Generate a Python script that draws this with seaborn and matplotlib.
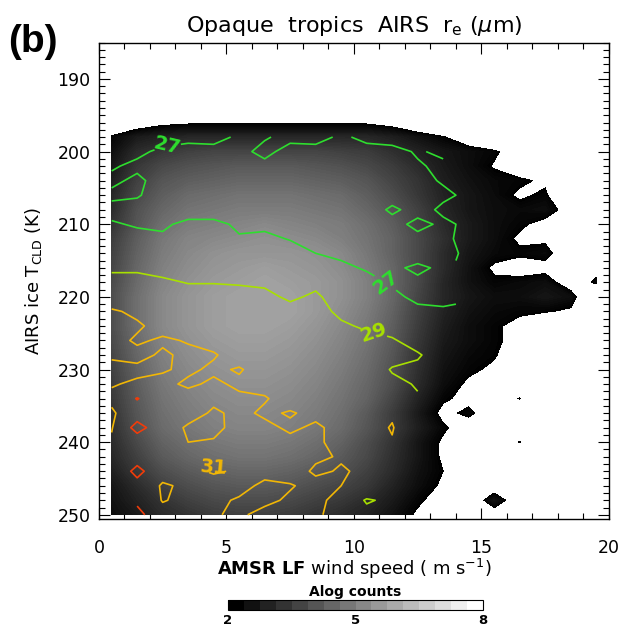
import numpy as np
import matplotlib
matplotlib.use("Agg")
import matplotlib.pyplot as plt
import matplotlib.ticker as mticker
from matplotlib.colors import BoundaryNorm, ListedColormap, Normalize
from matplotlib.cm import ScalarMappable
import seaborn as sns

# ---------------------------------------------------------------------------
# Gridded statistics: AMSR low-frequency wind speed (columns) versus AIRS ice
# cloud-top temperature (rows), opaque tropical clouds.
# ---------------------------------------------------------------------------
wind_bins = [0.5, 1.5, 2.5, 3.5, 4.5, 5.5, 6.5, 7.5, 8.5, 9.5,
             10.5, 11.5, 12.5, 13.5, 14.5, 15.5, 16.5, 17.5, 18.5, 19.5]
temp_bins = [196, 198, 200, 202, 204, 206, 208, 210, 212, 214, 216, 218, 220,
             222, 224, 226, 228, 230, 232, 234, 236, 238, 240, 242, 244, 246,
             248, 250]

# log10 of the number of observations per bin
log_counts = [
    [1.0, 1.5, 1.8, 1.9, 1.9, 1.9, 1.9, 1.9, 1.9, 1.9, 1.9, 1.7, 1.2, 0.8, 0.3, 0.0, 0.0, 0.0, 0.0, 0.0],
    [2.1, 2.6, 2.8, 2.9, 2.9, 2.9, 2.9, 2.9, 2.9, 2.9, 2.9, 2.7, 2.4, 2.05, 1.5, 1.0, 0.5, 0.0, 0.0, 0.0],
    [2.3, 3.0, 3.3, 3.5, 3.6, 3.6, 3.6, 3.6, 3.6, 3.5, 3.4, 3.1, 2.8, 2.5, 2.3, 2.1, 1.6, 0.8, 0.0, 0.0],
    [2.5, 3.3, 3.7, 3.9, 4.0, 4.1, 4.1, 4.1, 4.0, 3.9, 3.7, 3.4, 3.0, 2.6, 2.3, 1.95, 1.6, 1.0, 0.0, 0.0],
    [2.7, 3.5, 4.0, 4.2, 4.3, 4.4, 4.4, 4.4, 4.3, 4.2, 4.0, 3.6, 3.2, 2.7, 2.4, 2.2, 2.1, 1.9, 0.5, 0.0],
    [2.9, 3.7, 4.2, 4.5, 4.6, 4.7, 4.7, 4.7, 4.6, 4.5, 4.2, 3.8, 3.3, 2.8, 2.5, 2.25, 1.9, 2.1, 1.0, 0.0],
    [3.0, 3.9, 4.4, 4.7, 4.8, 4.9, 4.9, 4.9, 4.8, 4.7, 4.4, 4.0, 3.5, 2.9, 2.5, 2.3, 2.2, 2.3, 1.7, 0.5],
    [3.2, 4.0, 4.6, 4.9, 5.0, 5.1, 5.2, 5.1, 5.0, 4.9, 4.6, 4.2, 3.6, 3.0, 2.6, 2.3, 2.1, 1.8, 1.2, 0.5],
    [3.4, 4.2, 4.8, 5.1, 5.2, 5.3, 5.4, 5.3, 5.2, 5.0, 4.7, 4.3, 3.7, 3.1, 2.6, 2.3, 1.9, 1.9, 1.0, 0.0],
    [3.5, 4.3, 4.9, 5.2, 5.4, 5.5, 5.5, 5.5, 5.4, 5.2, 4.8, 4.3, 3.7, 3.0, 2.5, 2.2, 2.1, 2.2, 1.5, 0.5],
    [3.6, 4.4, 5.0, 5.3, 5.5, 5.6, 5.7, 5.6, 5.5, 5.3, 4.9, 4.4, 3.7, 3.0, 2.4, 1.9, 1.7, 1.8, 1.2, 1.8],
    [3.7, 4.5, 5.1, 5.4, 5.6, 5.7, 5.8, 5.7, 5.6, 5.4, 5.0, 4.4, 3.7, 2.9, 2.4, 2.1, 2.2, 2.3, 1.6, 2.1],
    [3.8, 4.6, 5.2, 5.5, 5.7, 5.8, 5.8, 5.8, 5.6, 5.4, 5.0, 4.4, 3.6, 2.9, 2.5, 2.3, 2.3, 2.5, 2.3, 1.0],
    [3.8, 4.6, 5.2, 5.5, 5.7, 5.8, 5.8, 5.8, 5.6, 5.3, 4.9, 4.3, 3.5, 2.8, 2.4, 2.2, 2.1, 2.05, 1.9, 0.5],
    [3.8, 4.6, 5.2, 5.5, 5.7, 5.8, 5.8, 5.7, 5.5, 5.2, 4.8, 4.2, 3.4, 2.7, 2.3, 2.1, 1.8, 1.2, 0.8, 0.2],
    [3.7, 4.5, 5.1, 5.4, 5.6, 5.7, 5.7, 5.6, 5.4, 5.1, 4.7, 4.1, 3.3, 2.6, 2.3, 2.1, 1.8, 1.0, 0.5, 0.0],
    [3.6, 4.4, 5.0, 5.3, 5.5, 5.6, 5.6, 5.5, 5.3, 5.0, 4.6, 4.0, 3.2, 2.5, 2.2, 2.05, 1.6, 0.8, 0.0, 0.0],
    [3.5, 4.3, 4.9, 5.2, 5.4, 5.5, 5.5, 5.4, 5.2, 4.9, 4.5, 3.9, 3.1, 2.4, 2.1, 1.9, 1.4, 0.5, 0.0, 0.0],
    [3.4, 4.2, 4.8, 5.1, 5.3, 5.4, 5.4, 5.3, 5.1, 4.8, 4.4, 3.8, 3.0, 2.3, 1.9, 1.6, 1.3, 0.5, 0.0, 0.0],
    [3.3, 4.1, 4.7, 5.0, 5.2, 5.3, 5.3, 5.2, 5.0, 4.7, 4.3, 3.6, 2.8, 2.1, 1.8, 1.6, 2.03, 1.2, 0.3, 0.0],
    [3.2, 4.0, 4.6, 4.9, 5.1, 5.2, 5.2, 5.1, 4.9, 4.6, 4.1, 3.4, 2.6, 1.8, 2.15, 1.5, 1.3, 0.8, 0.0, 0.0],
    [3.1, 3.9, 4.5, 4.8, 5.0, 5.1, 5.1, 5.0, 4.8, 4.5, 4.0, 3.4, 2.7, 2.1, 1.6, 1.3, 1.5, 0.8, 0.0, 0.0],
    [3.0, 3.7, 4.3, 4.6, 4.8, 4.9, 4.9, 4.8, 4.6, 4.3, 3.8, 3.2, 2.5, 1.9, 1.4, 1.2, 2.03, 0.8, 0.0, 0.0],
    [2.9, 3.5, 4.1, 4.4, 4.6, 4.7, 4.7, 4.6, 4.4, 4.1, 3.7, 3.1, 2.5, 1.9, 1.3, 1.0, 0.8, 0.3, 0.0, 0.0],
    [2.7, 3.3, 3.8, 4.1, 4.3, 4.4, 4.4, 4.3, 4.1, 3.9, 3.5, 3.0, 2.4, 2.0, 1.5, 1.2, 0.8, 0.3, 0.0, 0.0],
    [2.5, 3.0, 3.5, 3.8, 4.0, 4.1, 4.1, 4.0, 3.8, 3.6, 3.3, 2.8, 2.3, 1.9, 1.5, 1.6, 1.2, 0.3, 0.0, 0.0],
    [2.4, 2.8, 3.2, 3.5, 3.7, 3.8, 3.8, 3.7, 3.5, 3.3, 3.0, 2.6, 2.1, 1.7, 1.4, 2.4, 1.5, 0.3, 0.0, 0.0],
    [2.3, 2.6, 3.0, 3.2, 3.4, 3.5, 3.5, 3.4, 3.2, 3.0, 2.8, 2.4, 1.9, 1.5, 1.2, 1.6, 1.0, 0.2, 0.0, 0.0],
]

# mean ice effective radius (um) for wind bins 0.5 ... 14.5 m/s
nan = np.nan
re_um = [
    [nan, nan, nan, nan, nan, nan, nan, nan, nan, nan, nan, nan, nan, nan, nan],
    [nan, 27.3, 27.4, 27.3, 27.4, 26.8, 26.9, 27.3, 27.4, 26.8, 27.3, 27.4, nan, nan, nan],
    [27.3, 27.2, 26.8, 26.6, 26.6, 26.7, 27.3, 26.6, 26.6, 26.7, 26.6, 26.7, 27.1, 26.8, nan],
    [27.1, 26.8, 26.6, 26.5, 26.5, 26.5, 26.7, 26.5, 26.5, 26.5, 26.5, 26.6, 26.9, 27.2, nan],
    [26.8, 27.2, 26.6, 26.4, 26.4, 26.4, 26.4, 26.4, 26.4, 26.4, 26.4, 26.5, 26.7, 27.1, 24.9],
    [27.2, 27.1, 26.5, 26.3, 26.3, 26.3, 26.3, 26.3, 26.3, 26.3, 26.4, 26.5, 26.6, 26.8, 27.2],
    [26.7, 26.6, 26.5, 26.4, 26.4, 26.3, 26.3, 26.3, 26.3, 26.4, 26.4, 27.2, 26.6, 27.2, 27.3],
    [27.1, 26.9, 26.8, 27.3, 27.3, 26.8, 26.8, 26.7, 26.7, 26.6, 26.6, 26.6, 27.3, 26.8, 27.2],
    [27.4, 27.3, 27.2, 27.5, 27.5, 27.1, 27.2, 26.95, 26.7, 26.6, 26.6, 26.6, 26.7, 26.8, 27.3],
    [27.8, 27.7, 27.7, 27.8, 27.9, 27.6, 27.6, 27.4, 27.0, 26.8, 26.6, 26.6, 26.5, 26.7, 27.2],
    [28.8, 28.8, 28.6, 28.4, 28.3, 28.2, 28.1, 27.9, 27.6, 27.2, 26.9, 26.8, 27.2, 26.8, 26.9],
    [29.4, 29.4, 29.2, 28.95, 28.95, 28.9, 28.8, 28.5, 28.7, 28.0, 27.3, 26.9, 26.8, 26.8, 27.1],
    [30.0, 30.0, 29.8, 29.5, 29.5, 29.4, 29.3, 28.8, 29.2, 28.4, 27.8, 27.2, 26.8, 26.8, 26.9],
    [31.2, 30.7, 30.3, 30.0, 29.9, 29.8, 29.7, 29.4, 29.5, 28.7, 28.2, 27.8, 27.2, 27.1, nan],
    [31.4, 31.2, 30.5, 30.4, 30.3, 30.1, 30.0, 29.8, 29.8, 29.2, 28.8, 28.6, 27.8, 27.4, nan],
    [31.5, 30.8, 31.2, 30.9, 30.6, 30.3, 30.2, 30.0, 30.0, 29.6, 29.4, 29.1, 28.6, 27.9, nan],
    [31.1, 31.4, 30.8, 31.3, 31.1, 30.5, 30.4, 30.2, 30.2, 29.9, 29.7, 29.5, 29.1, 28.5, nan],
    [30.8, 30.7, 30.9, 31.2, 30.8, 31.1, 30.5, 30.3, 30.3, 30.1, 29.8, 28.9, 28.8, nan, nan],
    [30.9, 31.2, 31.3, 30.8, 31.2, 30.8, 30.6, 30.4, 30.5, 30.2, 29.9, 29.3, 28.9, nan, nan],
    [31.3, 33.1, 31.6, 31.5, 31.3, 31.2, 31.1, 30.5, 30.6, 30.4, 30.0, 29.6, 29.1, nan, nan],
    [30.8, 32.0, 31.7, 31.6, 30.8, 31.3, 30.8, 31.1, 30.7, 30.5, 30.2, 30.8, 29.5, nan, nan],
    [30.9, 33.7, 31.8, 30.8, 30.7, 31.4, 31.3, 30.8, 31.2, 30.6, 30.4, 31.1, 29.6, nan, nan],
    [31.2, 31.9, 31.2, 31.0, 31.1, 31.5, 31.4, 31.3, 31.1, 30.8, 30.5, 30.9, 29.8, nan, nan],
    [31.4, 32.2, 31.6, 31.4, 31.3, 31.2, 31.5, 31.4, 31.2, 30.9, 30.6, 30.7, 29.7, nan, nan],
    [31.5, 33.5, 31.7, 31.2, 30.9, 31.1, 31.3, 31.6, 30.8, 31.1, 30.8, 29.6, 29.4, nan, nan],
    [31.6, 32.4, 30.8, 31.3, 31.4, 31.3, 30.8, 30.9, 31.4, 31.0, 30.8, 30.4, nan, nan, nan],
    [31.7, 32.6, 30.9, 31.4, 31.2, 30.9, 30.7, 31.2, 31.3, 30.6, 28.8, 29.4, nan, nan, nan],
    [31.8, 33.6, 31.6, 31.3, 31.1, 30.8, 31.4, 31.3, 31.2, 30.5, 29.6, 29.8, nan, nan, nan],
]

re_levels = [25, 27, 29, 31, 33]
re_colors = ["#00d2a8", "#2ede2e", "#a8e000", "#f2b705", "#f03c0a"]
label_spots = {27: [(2.75, 200.5), (11.4, 217.5)], 29: [(10.8, 224.8)],
               31: [(4.5, 243.5)]}
count_range = (2, 8)
colorbar_ticks = [2, 5, 8]

# ---------------------------------------------------------------------------
sns.set_theme(style="ticks")
plt.rcParams["font.family"] = ["DejaVu Sans"]
plt.rcParams["mathtext.fontset"] = "dejavusans"
for key in ("text.color", "axes.labelcolor", "xtick.color", "ytick.color",
            "axes.edgecolor"):
    plt.rcParams[key] = "black"

fig = plt.figure(figsize=(6.22, 6.27), dpi=100)
ax = fig.add_axes([0.159, 0.172, 0.820, 0.760])

W, T = np.meshgrid(wind_bins, temp_bins)
counts = np.array(log_counts, dtype=float)

# grey shading of the counts; bins below the lowest level stay white
gray_cmap = sns.color_palette("gray", as_cmap=True)
fill_levels = np.linspace(count_range[0], count_range[1], 97)
ax.contourf(W, T, counts, levels=fill_levels, cmap=gray_cmap,
            norm=Normalize(*count_range))

# effective-radius contours, only where the sampling is sufficient
re_grid = np.full(counts.shape, np.nan)
re_grid[:, :len(re_um[0])] = np.array(re_um, dtype=float)
re_grid = np.ma.masked_where(~np.isfinite(re_grid) | (counts < 2.45), re_grid)
line_colors = sns.color_palette(re_colors)

for lev, col in zip(re_levels, line_colors):
    cs = ax.contour(W, T, re_grid, levels=[lev], colors=[col],
                    linewidths=1.2)
    if lev in label_spots:
        txts = ax.clabel(cs, manual=label_spots[lev], fmt="%d",
                         fontsize=14, inline=True, inline_spacing=2)
        for t in txts:
            t.set_fontweight("bold")

ax.set_xlim(0, 20)
ax.set_ylim(250.6, 185)
ax.xaxis.set_major_locator(mticker.MultipleLocator(5))
ax.xaxis.set_minor_locator(mticker.MultipleLocator(1))
ax.yaxis.set_major_locator(mticker.MultipleLocator(10))
ax.yaxis.set_minor_locator(mticker.MultipleLocator(1))
ax.tick_params(which="both", direction="in", top=True, right=True,
               color="black", width=0.8)
ax.tick_params(which="major", length=8, labelsize=12.5)
ax.tick_params(which="minor", length=4)
ax.tick_params(axis="x", which="major", pad=14)
ax.tick_params(axis="y", which="major", pad=6)
for sp in ax.spines.values():
    sp.set_color("black")
    sp.set_linewidth(1.0)

ax.set_xlabel(r"$\bf{AMSR\ LF}$ wind speed ( m s$^{-1}$)", fontsize=13,
              labelpad=0)
ax.set_ylabel(r"AIRS ice T$_{\rm CLD}$ (K)", fontsize=13, labelpad=10)
ax.set_title(r"Opaque  tropics  AIRS  r$_{\rm e}$ ($\mu$m)", fontsize=16,
             pad=8)

fig.text(0.013, 0.933, "(b)", fontsize=28, fontweight="bold",
         family=["Liberation Sans", "DejaVu Sans"], va="center", ha="left")

# discrete 16-step colour key
cax = fig.add_axes([228 / 622, 1 - 610 / 627, 255 / 622, 10 / 627])
bounds = np.linspace(count_range[0], count_range[1], 17)
key_cmap = ListedColormap(gray_cmap(np.linspace(0, 1, 16)))
cb = fig.colorbar(ScalarMappable(norm=BoundaryNorm(bounds, 16), cmap=key_cmap),
                  cax=cax, orientation="horizontal", ticks=colorbar_ticks)
cb.minorticks_off()
cb.outline.set_edgecolor("black")
cb.outline.set_linewidth(0.8)
cax.tick_params(length=0, labelsize=9.5, pad=3)
for t in cax.get_xticklabels():
    t.set_fontweight("bold")
cax.set_title("Alog counts", fontsize=10, fontweight="bold", pad=3)

fig.savefig("out.png", dpi=100)
